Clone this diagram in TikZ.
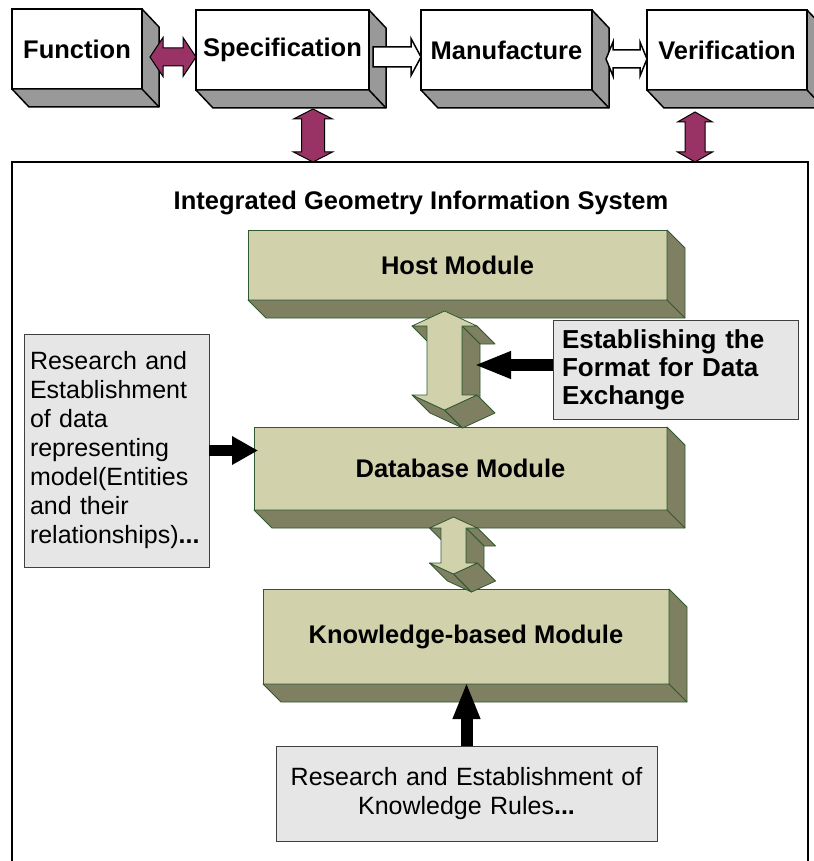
\documentclass[tikz,border=0pt]{standalone}
\usepackage{fontspec}
\setmainfont{Liberation Sans}
\usetikzlibrary{calc,arrows.meta}

\definecolor{plum}{HTML}{993366}
\definecolor{olivefront}{HTML}{D1D1AC}
\definecolor{oliveside}{HTML}{7F7F62}
\definecolor{oliveedge}{HTML}{2F5A2F}
\definecolor{sidegray}{HTML}{999999}
\definecolor{notegray}{HTML}{E6E6E6}

% side faces of a raised box: node, style, depth
\newcommand{\slab}[3]{%
  \filldraw[#2] (#1.north east) -- ($(#1.north east)+(#3)$) -- ($(#1.south east)+(#3)$)
    -- ($(#1.south west)+(#3)$) -- (#1.south west) -- (#1.south east) -- cycle;
  \draw[#2] (#1.south east) -- ($(#1.south east)+(#3)$);}

% flat block arrows: style, from, to, half shaft, half head, head length
\newcommand{\hdarrow}[6]{%
  \filldraw[#1] let \p1=(#2), \p2=(#3) in
    (\x1,\y1) -- ({\x1+#6pt},{\y1+#5pt}) -- ({\x1+#6pt},{\y1+#4pt}) -- ({\x2-#6pt},{\y1+#4pt})
    -- ({\x2-#6pt},{\y1+#5pt}) -- (\x2,\y1) -- ({\x2-#6pt},{\y1-#5pt}) -- ({\x2-#6pt},{\y1-#4pt})
    -- ({\x1+#6pt},{\y1-#4pt}) -- ({\x1+#6pt},{\y1-#5pt}) -- cycle;}
\newcommand{\harrow}[6]{%
  \filldraw[#1] let \p1=(#2), \p2=(#3) in
    (\x1,{\y1+#4pt}) -- ({\x2-#6pt},{\y1+#4pt}) -- ({\x2-#6pt},{\y1+#5pt}) -- (\x2,\y1)
    -- ({\x2-#6pt},{\y1-#5pt}) -- ({\x2-#6pt},{\y1-#4pt}) -- (\x1,{\y1-#4pt}) -- cycle;}
\newcommand{\vdarrow}[6]{%
  \filldraw[#1] let \p1=(#2), \p2=(#3) in
    (\x1,\y1) -- ({\x1+#5pt},{\y1-#6pt}) -- ({\x1+#4pt},{\y1-#6pt}) -- ({\x1+#4pt},{\y2+#6pt})
    -- ({\x1+#5pt},{\y2+#6pt}) -- (\x1,\y2) -- ({\x1-#5pt},{\y2+#6pt}) -- ({\x1-#4pt},{\y2+#6pt})
    -- ({\x1-#4pt},{\y1-#6pt}) -- ({\x1-#5pt},{\y1-#6pt}) -- cycle;}

% raised double arrow: top, bottom, half shaft, half head, head length, depth
\newcommand{\solidarrow}[6]{%
  \path let \p1=(#1), \p2=(#2) in
    coordinate (T) at (\x1,\y1)
    coordinate (RH) at ({\x1+#4pt},{\y1-#5pt})
    coordinate (RS) at ({\x1+#3pt},{\y1-#5pt})
    coordinate (RSb) at ({\x1+#3pt},{\y2+#5pt})
    coordinate (RHb) at ({\x1+#4pt},{\y2+#5pt})
    coordinate (B) at (\x1,\y2)
    coordinate (LHb) at ({\x1-#4pt},{\y2+#5pt})
    coordinate (LSb) at ({\x1-#3pt},{\y2+#5pt})
    coordinate (LS) at ({\x1-#3pt},{\y1-#5pt})
    coordinate (LH) at ({\x1-#4pt},{\y1-#5pt});
  \foreach \ea/\eb in {LS/LH, RH/RS, RS/RSb, B/LHb, RHb/B}
    \filldraw[modside] (\ea) -- (\eb) -- ($(\eb)+(#6)$) -- ($(\ea)+(#6)$) -- cycle;
  \filldraw[modfront] (T) -- (RH) -- (RS) -- (RSb) -- (RHb) -- (B) -- (LHb) -- (LSb) -- (LS) -- (LH) -- cycle;}

\begin{document}
\begin{tikzpicture}[x=1pt,y=-1pt,
  topbox/.style={draw=black, line width=1.5pt, fill=white, minimum height=80, outer sep=0pt, inner sep=0pt, font=\fontsize{25.5}{30}\selectfont\bfseries},
  topside/.style={fill=sidegray, draw=black, line width=1.5pt, line join=round},
  module/.style={draw=oliveedge, line width=0.8pt, fill=olivefront, outer sep=0pt, font=\fontsize{25.5}{30}\selectfont\bfseries},
  modside/.style={fill=oliveside, draw=oliveedge, line width=0.8pt, line join=round},
  modfront/.style={fill=olivefront, draw=oliveedge, line width=0.8pt, line join=round},
  note/.style={draw=black!75, line width=1pt, fill=notegray, outer sep=0pt, inner sep=6pt, font=\fontsize{25}{29}\selectfont},
  plumarrow/.style={fill=plum, draw=black, line width=1pt},
  hollowarrow/.style={fill=white, draw=black, line width=1.5pt},
  pointer/.style={draw=black, line width=12pt, -{Triangle[length=37pt,width=25pt]}}]
\useasboundingbox (0,0) rectangle (813,861);

% system frame
\node[draw=black, line width=2pt, minimum width=796, minimum height=701, anchor=north west, outer sep=0pt] (sys) at (12,162) {};
\node[font=\fontsize{25.5}{30}\selectfont\bfseries] (ttl) at (421,203) {Integrated Geometry Information System};

% life cycle
\node[topbox, minimum width=130] (fun) at (77,49) {Function};
\node[topbox, minimum width=173] (spec) at (282.5,50) {Specification};
\node[topbox, minimum width=171] (manuf) at (506.5,50) {Manufacture};
\node[topbox, minimum width=160] (verif) at (727,50) {Verification};
\foreach \n in {fun,spec,manuf,verif}
  \slab{\n}{topside}{17,18};

\coordinate (fs) at ($(fun.east)+(8,8)$);
\coordinate (sm) at ($(spec.east)+(4,7)$);
\coordinate (mv) at ($(manuf.east)+(14,9)$);
\coordinate (sv) at ($(spec.south)+(30.5,19)$);
\coordinate (vv) at ($(verif.south)+(-32,22)$);
\hdarrow{plumarrow}{fs}{spec.west |- fs}{9}{19.5}{13}
\harrow{hollowarrow}{sm}{manuf.west |- sm}{10}{18.5}{10}
\hdarrow{hollowarrow}{mv}{verif.west |- mv}{9}{17}{7}
\vdarrow{plumarrow}{sv}{sv |- sys.north}{11.5}{19.5}{10}
\vdarrow{plumarrow}{vv}{vv |- sys.north}{10}{17.5}{10}

% modules
\node[module, minimum width=419, minimum height=70] (host) at (457.5,265) {Host Module};
\node[module, minimum width=413, minimum height=83] (db) at (460.5,468.5) {Database Module};
\node[module, minimum width=406, minimum height=95] (know) at (466,636.5) {Knowledge-based Module};
\foreach \n in {host,db,know}
  \slab{\n}{modside}{18,18};

\node[note, font=\fontsize{26}{28}\selectfont\bfseries, align=left, text width=227pt, minimum width=245, minimum height=98, inner sep=9pt] (est) at (675.5,370)
  {Establishing the\\Format for Data\\Exchange};
\solidarrow{$(host.south)+(-13,11)$}{$(db.north)+(-16,-17)$}{17.5}{32.5}{15}{18,18}
\coordinate (hit) at ($(RS)+(12,39)$);
\draw[pointer] (est.west |- hit) -- (hit);
\solidarrow{$(db.south)+(-7,7)$}{$(know.north)+(-12.5,-15)$}{12.5}{24}{11}{18,18}

% notes
\node[note, align=left, text width=173pt, minimum width=185, minimum height=233, inner sep=5pt] (lnote) at (116.5,450.5)
  {Research and\\Establishment\\of data\\representing\\model(Entities\\and their\\relationships)\textbf{...}};
\draw[pointer, line width=11pt, -{Triangle[length=26pt,width=27pt]}, shorten >=-4pt] (lnote.east) -- (lnote.east -| db.west);
\node[note, align=center, text width=361pt, minimum width=381, minimum height=95] (knote) at (466.5,793.5)
  {Research and Establishment of\\Knowledge Rules\textbf{...}};
\draw[pointer, shorten >=-2pt] (knote.north) -- (knote.north |- know.south);
\end{tikzpicture}
\end{document}
